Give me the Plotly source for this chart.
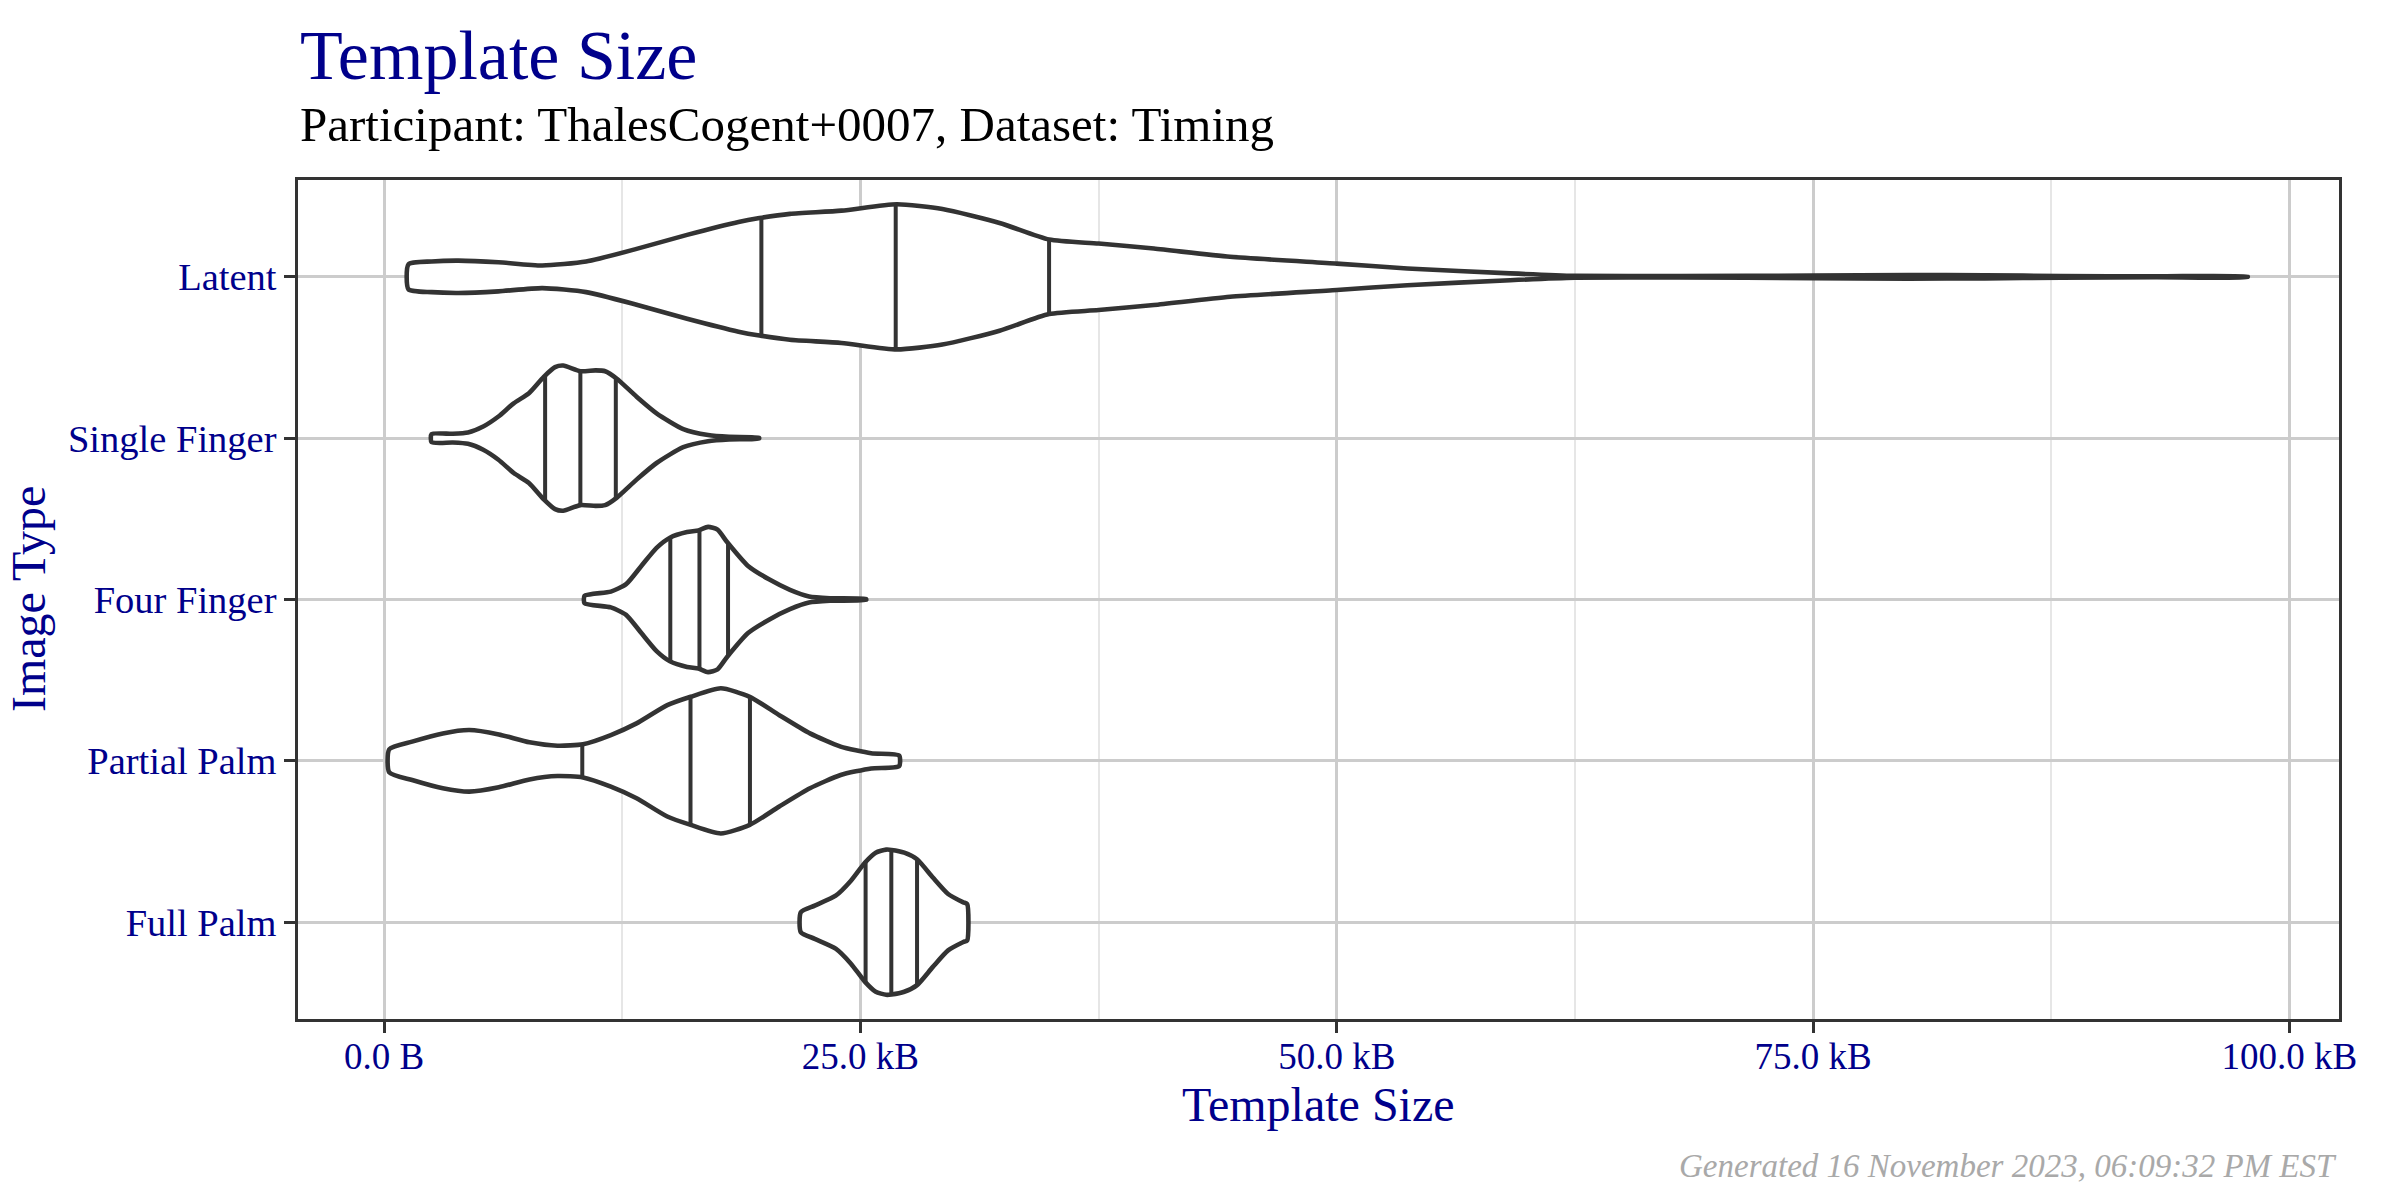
import numpy as np
import plotly.graph_objects as go

# ---------------- data ----------------
categories = ["Full Palm", "Partial Palm", "Four Finger", "Single Finger", "Latent"]

# violin outlines: template size (kB) and relative half-width (max 0.45)
latent_kb = [1.28, 2.5, 3.9, 6.0, 8.3, 10.6, 13.25, 15.9, 18.6, 19.7, 21.3, 24.0, 26.9, 29.3,
             32.3, 34.9, 37.5, 40.4, 44.4, 50.0, 53.7, 59.1, 62.5, 68.0, 75.0, 80.0, 84.0,
             88.0, 93.0, 97.8]
latent_hw = [0.078, 0.095, 0.10, 0.09, 0.07, 0.095, 0.173, 0.26, 0.34, 0.364, 0.39, 0.41, 0.45,
             0.42, 0.334, 0.231, 0.206, 0.175, 0.124, 0.082, 0.052, 0.021, 0.006, 0.004,
             0.008, 0.011, 0.010, 0.005, 0.003, 0.002]

single_kb = [2.49, 3.6, 4.4, 5.2, 6.0, 6.8, 7.6, 8.38, 8.97, 9.4, 10.3, 11.1, 11.6, 12.2,
             13.25, 14.3, 15.7, 17.0, 18.1, 19.67]
single_hw = [0.025, 0.027, 0.035, 0.072, 0.134, 0.216, 0.278, 0.38, 0.44, 0.45, 0.415, 0.42,
             0.415, 0.37, 0.257, 0.154, 0.056, 0.019, 0.008, 0.003]

four_kb = [10.52, 11.9, 12.7, 13.5, 14.3, 15.0, 15.9, 16.5, 17.0, 17.5, 18.0, 19.1, 20.2,
           21.3, 22.3, 23.4, 25.3]
four_hw = [0.023, 0.049, 0.095, 0.208, 0.32, 0.383, 0.418, 0.428, 0.45, 0.433, 0.356, 0.208,
           0.125, 0.06, 0.019, 0.008, 0.003]

partial_kb = [0.27, 1.47, 3.08, 4.47, 6.02, 7.63, 9.1, 10.44, 11.9, 13.25, 14.86, 16.09,
              17.67, 19.19, 20.74, 22.35, 23.96, 25.56, 27.03]
partial_hw = [0.072, 0.119, 0.17, 0.191, 0.164, 0.115, 0.094, 0.103, 0.16, 0.232, 0.345,
              0.397, 0.45, 0.397, 0.283, 0.17, 0.088, 0.047, 0.033]

full_kb = [21.87, 22.6, 23.7, 24.5, 25.24, 25.8, 26.35, 26.63, 27.3, 27.97, 28.8, 29.6,
           30.4, 30.6]
full_hw = [0.062, 0.103, 0.164, 0.257, 0.37, 0.431, 0.45, 0.448, 0.431, 0.39, 0.277, 0.175,
           0.123, 0.113]

# quartiles (25 %, 50 %, 75 %) in kB
latent_q = [19.8, 26.85, 34.9]
single_q = [8.45, 10.3, 12.16]
four_q = [15.02, 16.55, 18.05]
partial_q = [10.4, 16.08, 19.2]
full_q = [25.27, 26.62, 27.97]

x_ticks = [0, 25, 50, 75, 100]
x_tick_labels = ["0.0 B", "25.0 kB", "50.0 kB", "75.0 kB", "100.0 kB"]
x_minor = [12.5, 37.5, 62.5, 87.5]

title = "Template Size"
subtitle = "Participant: ThalesCogent+0007, Dataset: Timing"
caption = "Generated 16 November 2023, 06:09:32 PM EST"

# ---------------- figure ----------------
NAVY = "#00008B"
INK = "#333333"
FONT = "Liberation Serif"
LW = 4.6

profiles = {
    "Full Palm": (full_kb, full_hw, full_q),
    "Partial Palm": (partial_kb, partial_hw, partial_q),
    "Four Finger": (four_kb, four_hw, four_q),
    "Single Finger": (single_kb, single_hw, single_q),
    "Latent": (latent_kb, latent_hw, latent_q),
}

fig = go.Figure()
for pos, cat in enumerate(categories):
    kb, hw, q = profiles[cat]
    kb = np.asarray(kb, float)
    hw = np.asarray(hw, float)
    xs = np.concatenate([kb, kb[::-1], kb[:1]])
    ys = np.concatenate([pos + hw, (pos - hw)[::-1], [pos + hw[0]]])
    fig.add_trace(go.Scatter(
        x=xs, y=ys, mode="lines", fill="toself", fillcolor="white",
        line=dict(color=INK, width=LW, shape="spline", smoothing=0.6),
        hoverinfo="skip", showlegend=False))
    qx, qy = [], []
    for qv in q:
        h = float(np.interp(qv, kb, hw))
        qx += [qv, qv, None]
        qy += [pos - h, pos + h, None]
    fig.add_trace(go.Scatter(
        x=qx, y=qy, mode="lines", line=dict(color=INK, width=4.0),
        hoverinfo="skip", showlegend=False))

fig.update_layout(
    width=2400, height=1200,
    margin=dict(l=298, r=61, t=180, b=181),
    paper_bgcolor="white", plot_bgcolor="white",
    font=dict(family=FONT, color=NAVY),
    showlegend=False,
)

fig.update_xaxes(
    range=[-4.52, 102.6], tickvals=x_ticks, ticktext=x_tick_labels,
    showgrid=True, gridcolor="#CCCCCC", gridwidth=2.8,
    minor=dict(tickvals=x_minor, showgrid=True, gridcolor="#E6E6E6", gridwidth=1.8, ticks=""),
    zeroline=False, showline=True, mirror=True, linecolor=INK, linewidth=2.6,
    ticks="outside", ticklen=11, tickwidth=3, tickcolor=INK,
    ticklabelstandoff=-8,
    tickfont=dict(family=FONT, size=37, color=NAVY),
)
fig.update_yaxes(
    range=[-0.6, 4.6], tickvals=list(range(len(categories))), ticktext=categories,
    showgrid=True, gridcolor="#CCCCCC", gridwidth=2.8,
    zeroline=False, showline=True, mirror=True, linecolor=INK, linewidth=2.6,
    ticks="outside", ticklen=11, tickwidth=3, tickcolor=INK,
    tickfont=dict(family=FONT, size=38.5, color=NAVY),
)

ann = [
    dict(text=title, x=0, y=1.148, xanchor="left", yanchor="middle",
         font=dict(family=FONT, size=70, color=NAVY)),
    dict(text=subtitle, x=0, y=1.0656, xanchor="left", yanchor="middle",
         font=dict(family=FONT, size=49, color="black")),
    dict(text="Template Size", x=0.5, y=-0.102, xanchor="center", yanchor="middle",
         font=dict(family=FONT, size=48, color=NAVY)),
    dict(text="Image Type", x=-0.132, y=0.5, xanchor="center", yanchor="middle",
         textangle=-90, font=dict(family=FONT, size=48, color=NAVY)),
    dict(text=caption, x=1.0, y=-0.175, xanchor="right", yanchor="middle",
         font=dict(family=FONT, size=33, color="#A9A9A9", style="italic")),
]
for a in ann:
    a.update(xref="paper", yref="paper", showarrow=False)
fig.update_layout(annotations=ann)

fig.write_html("out.html")
